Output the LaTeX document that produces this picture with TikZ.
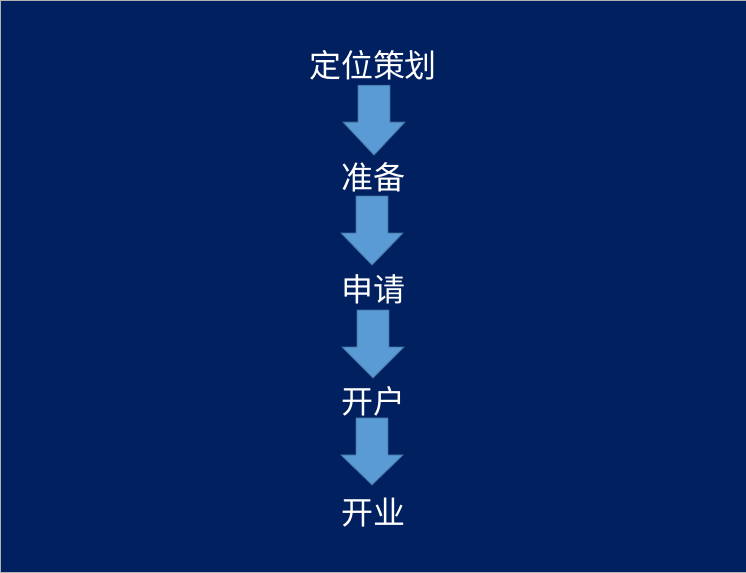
\documentclass[tikz,border=0pt]{standalone}
\usepackage{fontspec}
\newfontfamily\cjk{Noto Sans CJK SC}
\definecolor{bg}{HTML}{002060}
\definecolor{arr}{HTML}{5B9BD5}
\definecolor{arrb}{HTML}{41719C}
\begin{document}
\begin{tikzpicture}[x=1pt,y=-1pt,
  lbl/.style={text=white,font=\cjk\fontsize{32}{34}\selectfont,inner sep=0pt},
  blk/.style={fill=arr,draw=arrb,line width=0.8pt}]
\fill[bg,draw=gray!60] (0,0) rectangle (746,572);
\node[lbl] (a) at (373,65) {定位策划};
\node[lbl] (b) at (373,177) {准备};
\node[lbl] (c) at (373,289) {申请};
\node[lbl] (d) at (373,401) {开户};
\node[lbl] (e) at (373,513) {开业};
\foreach \t/\h/\b/\cx in {85/122/155/374,196/233/265/372,310/347/378/373,418/455/485/372}{
  \draw[blk] (\cx-16,\t) -- (\cx+16,\t) -- (\cx+16,\h) -- (\cx+31,\h) -- (\cx,\b) -- (\cx-31,\h) -- (\cx-16,\h) -- cycle;
}
\end{tikzpicture}
\end{document}
